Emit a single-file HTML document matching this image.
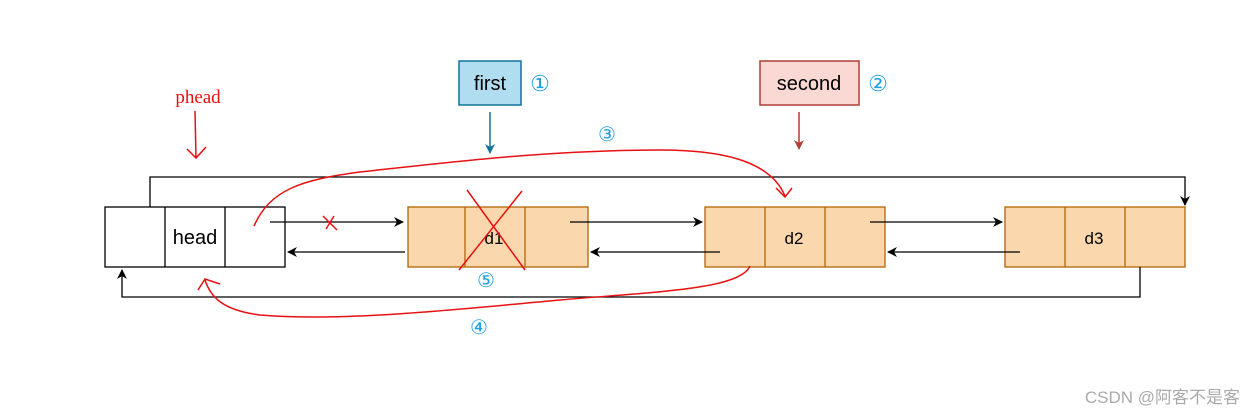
<!DOCTYPE html>
<html><head><meta charset="utf-8"><style>
html,body{margin:0;padding:0;background:#fff;width:1259px;height:416px;overflow:hidden}
svg{display:block}
text{font-family:"Liberation Sans",Arial,sans-serif}
</style></head><body>
<svg width="1259" height="416" viewBox="0 0 1259 416" xmlns="http://www.w3.org/2000/svg">
<defs>
<marker id="ab" markerWidth="10" markerHeight="10" refX="9" refY="5" orient="auto" markerUnits="userSpaceOnUse"><path d="M0,0 L10,5 L0,10 L3,5 z" fill="#000"/></marker>
<marker id="abl" markerWidth="10" markerHeight="10" refX="9" refY="5" orient="auto" markerUnits="userSpaceOnUse"><path d="M0,0 L10,5 L0,10 L3,5 z" fill="#10739e"/></marker>
<marker id="abr" markerWidth="10" markerHeight="10" refX="9" refY="5" orient="auto" markerUnits="userSpaceOnUse"><path d="M0,0 L10,5 L0,10 L3,5 z" fill="#ae4132"/></marker>
</defs>
<!-- phead -->
<text x="198" y="103" font-family="Liberation Serif,serif" font-size="19" fill="#e81010" text-anchor="middle" style="font-family:'Liberation Serif',serif">phead</text>
<path d="M195,111 L196,158 M187,149 L196,158 L206,147" stroke="#e81010" stroke-width="1.5" fill="none"/>
<!-- first -->
<rect x="459" y="61" width="62" height="44" fill="#b1ddf0" stroke="#10739e" stroke-width="1.5"/>
<text x="490" y="90" font-size="20" text-anchor="middle">first</text>
<text x="540" y="91" font-size="22" fill="#1ba1e2" text-anchor="middle">①</text>
<line x1="490" y1="112" x2="490" y2="153" stroke="#10739e" stroke-width="1.5" marker-end="url(#abl)"/>
<!-- second -->
<rect x="760" y="61" width="99" height="44" fill="#fad9d5" stroke="#ae4132" stroke-width="1.5"/>
<text x="809" y="90" font-size="20" text-anchor="middle">second</text>
<text x="878" y="91" font-size="22" fill="#1ba1e2" text-anchor="middle">②</text>
<line x1="799" y1="112" x2="799" y2="149" stroke="#ae4132" stroke-width="1.5" marker-end="url(#abr)"/>
<text x="607" y="141" font-size="20" fill="#1ba1e2" text-anchor="middle">③</text>
<!-- head node -->
<rect x="105" y="207" width="180" height="60" fill="#fff" stroke="#000" stroke-width="1.3"/>
<line x1="165" y1="207" x2="165" y2="267" stroke="#000" stroke-width="1.3"/>
<line x1="225" y1="207" x2="225" y2="267" stroke="#000" stroke-width="1.3"/>
<text x="195" y="244" font-size="20" text-anchor="middle">head</text>
<!-- d nodes -->
<g fill="#fad7ac" stroke="#b46504" stroke-width="1.3">
<rect x="408" y="207" width="180" height="60"/><line x1="465" y1="207" x2="465" y2="267"/><line x1="525" y1="207" x2="525" y2="267"/>
<rect x="705" y="207" width="180" height="60"/><line x1="765" y1="207" x2="765" y2="267"/><line x1="825" y1="207" x2="825" y2="267"/>
<rect x="1005" y="207" width="180" height="60"/><line x1="1065" y1="207" x2="1065" y2="267"/><line x1="1125" y1="207" x2="1125" y2="267"/>
</g>
<text x="494" y="244" font-size="17" text-anchor="middle">d1</text>
<text x="794" y="244" font-size="17" text-anchor="middle">d2</text>
<text x="1094" y="244" font-size="17" text-anchor="middle">d3</text>
<!-- black arrows -->
<g stroke="#000" stroke-width="1.3" fill="none">
<line x1="270" y1="222" x2="403" y2="222" marker-end="url(#ab)"/>
<line x1="405" y1="252" x2="288" y2="252" marker-end="url(#ab)"/>
<line x1="570" y1="222" x2="702" y2="222" marker-end="url(#ab)"/>
<line x1="720" y1="252" x2="591" y2="252" marker-end="url(#ab)"/>
<line x1="870" y1="222" x2="1002" y2="222" marker-end="url(#ab)"/>
<line x1="1020" y1="252" x2="888" y2="252" marker-end="url(#ab)"/>
<polyline points="150,207 150,177 1185,177 1185,205" marker-end="url(#ab)"/>
<polyline points="1140,267 1140,297 122,297 122,270" marker-end="url(#ab)"/>
</g>
<!-- red scribbles -->
<g stroke="#e81010" stroke-width="1.5" fill="none">
<path d="M323,216 L337,230 M334,216 L326,229"/>
<path d="M467,190 L525,270 M522,191 L459,270"/>
<path d="M254,226 C270,190 300,180 360,172 C450,162 550,150 660,150 C720,150 770,160 785,196 M776,188 L785,197 L792,188"/>
<path d="M750,266 C740,290 650,292 560,300 C450,310 340,322 260,315 C220,310 210,295 205,280 M198,290 L205,279 L220,284"/>
</g>
<text x="486" y="287" font-size="20" fill="#1ba1e2" text-anchor="middle">⑤</text>
<text x="479" y="334" font-size="20" fill="#1ba1e2" text-anchor="middle">④</text>
<text x="1240" y="403" font-size="17" fill="#aaa" text-anchor="end" style="font-family:'Liberation Sans','Noto Sans CJK SC',sans-serif">CSDN @阿客不是客</text>
</svg>
</body></html>
